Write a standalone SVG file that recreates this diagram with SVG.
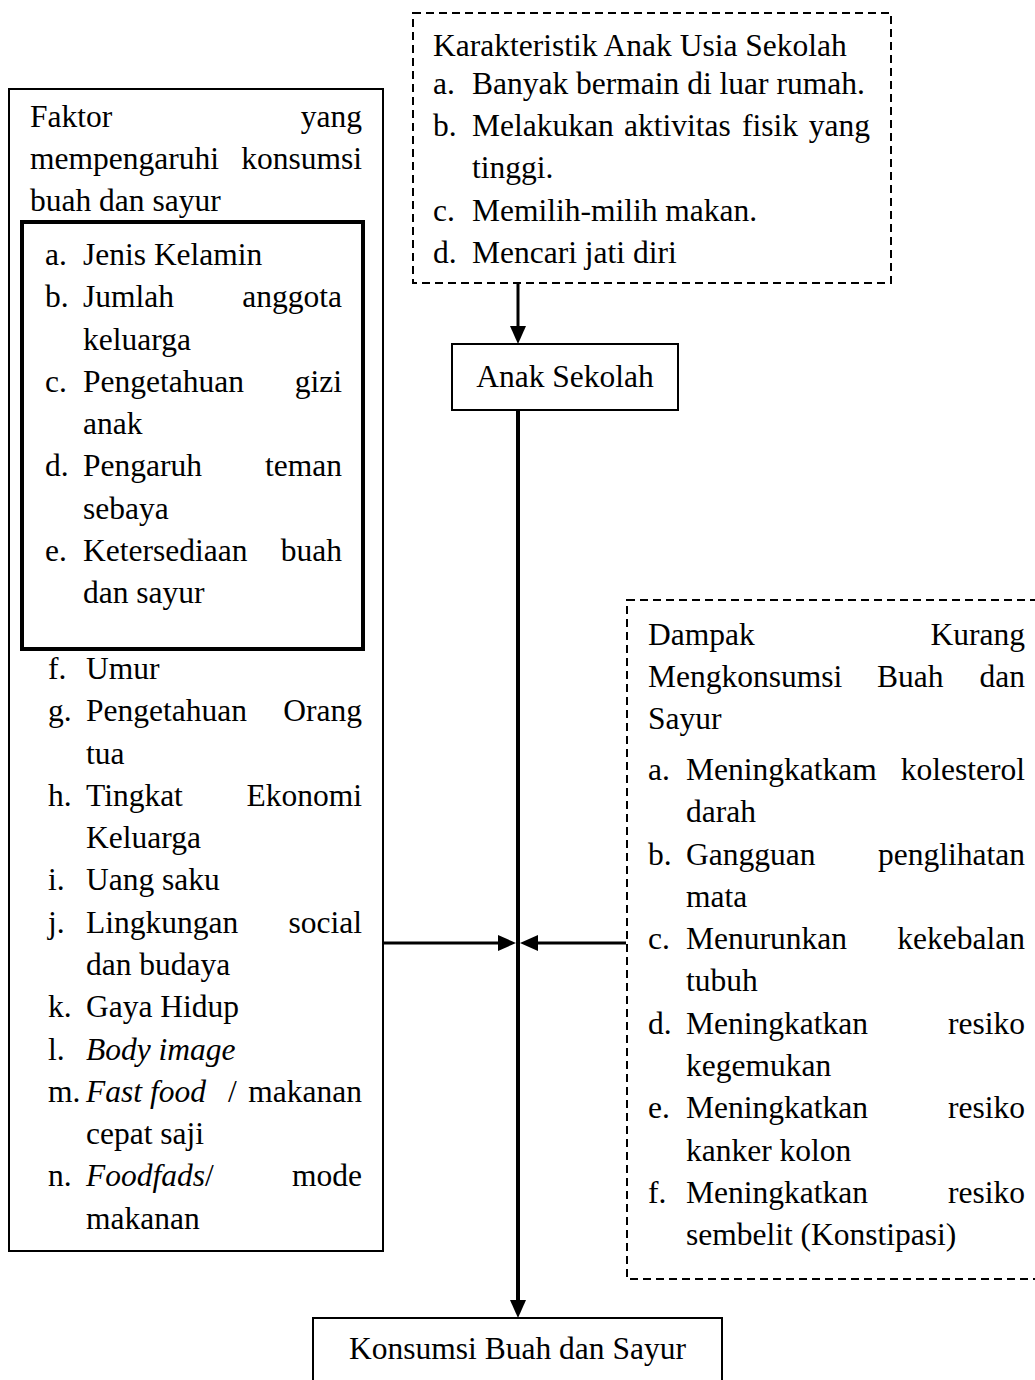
<svg xmlns="http://www.w3.org/2000/svg" width="1035" height="1380" viewBox="0 0 1035 1380">
<style>
.t{font-family:"Liberation Serif","Times New Roman",serif;font-size:31.5px;fill:#000}
.e{text-anchor:end}
.m{text-anchor:middle}
.i{font-style:italic}
.box{fill:none;stroke:#000;stroke-width:2}
.thick{fill:none;stroke:#000;stroke-width:4}
.dash{fill:none;stroke:#000;stroke-width:2;stroke-dasharray:8 5}
.ln{stroke:#000;stroke-width:3;fill:none}
</style>
<defs>
<marker id="ah" viewBox="0 0 18 16" refX="8" refY="8" markerWidth="18" markerHeight="16" markerUnits="userSpaceOnUse" orient="auto">
<path d="M0,0 L18,8 L0,16 Z" fill="#000"/>
</marker>
</defs>
<rect width="1035" height="1380" fill="#fff"/>

<g id="karakteristik">
<rect class="dash" x="413" y="13" width="478" height="270"/>
<text class="t" x="433" y="56">Karakteristik Anak Usia Sekolah</text>
<text class="t" x="433" y="94">a.</text><text class="t" x="472" y="94">Banyak bermain di luar rumah.</text>
<text class="t" x="433" y="136">b.</text><text class="t" y="136"><tspan x="472">Melakukan</tspan><tspan x="624">aktivitas</tspan><tspan x="742">fisik</tspan></text><text class="t e" x="870" y="136">yang</text>
<text class="t" x="472" y="178">tinggi.</text>
<text class="t" x="433" y="221">c.</text><text class="t" x="472" y="221">Memilih-milih makan.</text>
<text class="t" x="433" y="263">d.</text><text class="t" x="472" y="263">Mencari jati diri</text>
</g>

<g id="anak-sekolah">
<rect class="box" x="452" y="344" width="226" height="66"/>
<text class="t m" x="565" y="387">Anak Sekolah</text>
</g>

<g id="faktor">
<rect class="box" x="9" y="89" width="374" height="1162"/>
<text class="t" x="30" y="127">Faktor</text><text class="t e" x="362" y="127">yang</text>
<text class="t" x="30" y="169">mempengaruhi</text><text class="t e" x="362" y="169">konsumsi</text>
<text class="t" x="30" y="211">buah dan sayur</text>
<rect class="thick" x="22" y="222" width="341" height="427"/>
<text class="t" x="45" y="265">a.</text><text class="t" x="83" y="265">Jenis Kelamin</text>
<text class="t" x="45" y="307">b.</text><text class="t" x="83" y="307">Jumlah</text><text class="t e" x="342" y="307">anggota</text>
<text class="t" x="83" y="350">keluarga</text>
<text class="t" x="45" y="392">c.</text><text class="t" x="83" y="392">Pengetahuan</text><text class="t e" x="342" y="392">gizi</text>
<text class="t" x="83" y="434">anak</text>
<text class="t" x="45" y="476">d.</text><text class="t" x="83" y="476">Pengaruh</text><text class="t e" x="342" y="476">teman</text>
<text class="t" x="83" y="519">sebaya</text>
<text class="t" x="45" y="561">e.</text><text class="t" x="83" y="561">Ketersediaan</text><text class="t e" x="342" y="561">buah</text>
<text class="t" x="83" y="603">dan sayur</text>
<text class="t" x="48" y="679">f.</text><text class="t" x="86" y="679">Umur</text>
<text class="t" x="48" y="721">g.</text><text class="t" x="86" y="721">Pengetahuan</text><text class="t e" x="362" y="721">Orang</text>
<text class="t" x="86" y="764">tua</text>
<text class="t" x="48" y="806">h.</text><text class="t" x="86" y="806">Tingkat</text><text class="t e" x="362" y="806">Ekonomi</text>
<text class="t" x="86" y="848">Keluarga</text>
<text class="t" x="48" y="890">i.</text><text class="t" x="86" y="890">Uang saku</text>
<text class="t" x="48" y="933">j.</text><text class="t" x="86" y="933">Lingkungan</text><text class="t e" x="362" y="933">social</text>
<text class="t" x="86" y="975">dan budaya</text>
<text class="t" x="48" y="1017">k.</text><text class="t" x="86" y="1017">Gaya Hidup</text>
<text class="t" x="48" y="1060">l.</text><text class="t i" x="86" y="1060">Body image</text>
<text class="t" x="48" y="1102">m.</text><text class="t i" x="86" y="1102">Fast food</text><text class="t" x="228" y="1102">/</text><text class="t e" x="362" y="1102">makanan</text>
<text class="t" x="86" y="1144">cepat saji</text>
<text class="t" x="48" y="1186">n.</text><text class="t" x="86" y="1186"><tspan class="i">Foodfads</tspan>/</text><text class="t e" x="362" y="1186">mode</text>
<text class="t" x="86" y="1229">makanan</text>
</g>

<g id="dampak">
<rect class="dash" x="627" y="600" width="420" height="679"/>
<text class="t" x="648" y="645">Dampak</text><text class="t e" x="1025" y="645">Kurang</text>
<text class="t" x="648" y="687">Mengkonsumsi</text><text class="t" x="877" y="687">Buah</text><text class="t e" x="1025" y="687">dan</text>
<text class="t" x="648" y="729">Sayur</text>
<text class="t" x="648" y="780">a.</text><text class="t" x="686" y="780">Meningkatkam</text><text class="t e" x="1025" y="780">kolesterol</text>
<text class="t" x="686" y="822">darah</text>
<text class="t" x="648" y="865">b.</text><text class="t" x="686" y="865">Gangguan</text><text class="t e" x="1025" y="865">penglihatan</text>
<text class="t" x="686" y="907">mata</text>
<text class="t" x="648" y="949">c.</text><text class="t" x="686" y="949">Menurunkan</text><text class="t e" x="1025" y="949">kekebalan</text>
<text class="t" x="686" y="991">tubuh</text>
<text class="t" x="648" y="1034">d.</text><text class="t" x="686" y="1034">Meningkatkan</text><text class="t e" x="1025" y="1034">resiko</text>
<text class="t" x="686" y="1076">kegemukan</text>
<text class="t" x="648" y="1118">e.</text><text class="t" x="686" y="1118">Meningkatkan</text><text class="t e" x="1025" y="1118">resiko</text>
<text class="t" x="686" y="1161">kanker kolon</text>
<text class="t" x="648" y="1203">f.</text><text class="t" x="686" y="1203">Meningkatkan</text><text class="t e" x="1025" y="1203">resiko</text>
<text class="t" x="686" y="1245">sembelit (Konstipasi)</text>
</g>

<g id="konsumsi">
<rect class="box" x="313" y="1318" width="409" height="90"/>
<text class="t m" x="517.5" y="1359">Konsumsi Buah dan Sayur</text>
</g>

<g id="connectors">
<line class="ln" x1="518" y1="283" x2="518" y2="334" marker-end="url(#ah)"/>
<line class="ln" x1="518" y1="410" x2="518" y2="1308" style="stroke-width:4" marker-end="url(#ah)"/>
<line class="ln" x1="383" y1="943" x2="506" y2="943" marker-end="url(#ah)"/>
<line class="ln" x1="626" y1="943" x2="530" y2="943" marker-end="url(#ah)"/>
</g>
</svg>
